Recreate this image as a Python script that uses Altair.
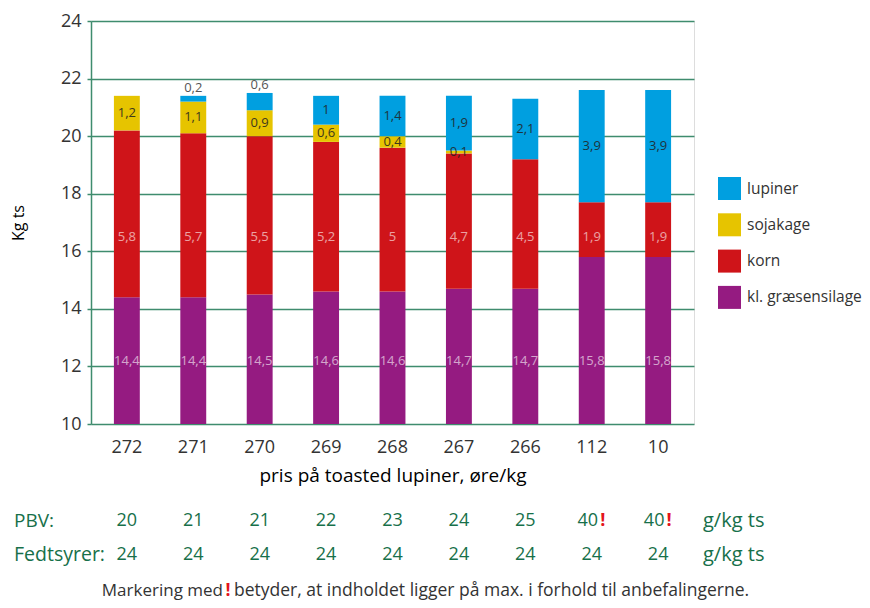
import altair as alt
import pandas as pd

categories = ["272", "271", "270", "269", "268", "267", "266", "112", "10"]
graes = [14.4, 14.4, 14.5, 14.6, 14.6, 14.7, 14.7, 15.8, 15.8]
korn = [5.8, 5.7, 5.5, 5.2, 5, 4.7, 4.5, 1.9, 1.9]
soja = [1.2, 1.1, 0.9, 0.6, 0.4, 0.1, 0, 0, 0]
lupin = [0, 0.2, 0.6, 1, 1.4, 1.9, 2.1, 3.9, 3.9]
pbv = [20, 21, 21, 22, 23, 24, 25, 40, 40]
pbv_max = [False, False, False, False, False, False, False, True, True]
fedt = [24, 24, 24, 24, 24, 24, 24, 24, 24]

components = ["kl. græsensilage", "korn", "sojakage", "lupiner"]
series = [graes, korn, soja, lupin]

rows = []
for ci, (comp, vals) in enumerate(zip(components, series)):
    for cat, v in zip(categories, vals):
        rows.append({"cat": cat, "component": comp, "value": v, "order": ci})
df = pd.DataFrame(rows)

table = pd.DataFrame({"cat": categories, "pbv": pbv, "flag": pbv_max, "fedt": fedt})

FONT = "Open Sans"
GREEN = "#17704a"
GRID = "#3f8c6e"

x_enc = alt.X(
    "cat:N", sort=categories,
    scale=alt.Scale(paddingInner=0.61, paddingOuter=0.345),
    axis=alt.Axis(title="pris på toasted lupiner, øre/kg", labelAngle=0, ticks=False,
                  domain=False, labelFontSize=18, labelPadding=14, labelColor="#333333",
                  titleFontSize=19, titleFontWeight="normal", titleColor="#000000",
                  titlePadding=10, labelFont=FONT, titleFont=FONT),
)
y_scale = alt.Scale(domain=[10, 24], nice=False, zero=False)
y_axis = alt.Axis(title="Kg ts", values=[10, 12, 14, 16, 18, 20, 22, 24], grid=True,
                  gridColor=GRID, gridWidth=1.5, domainColor=GRID, domainWidth=1.5,
                  tickColor=GRID, tickSize=4, tickWidth=1.5, labelFontSize=18,
                  labelColor="#333333", labelPadding=6, titleFontSize=16,
                  titleFontWeight="normal", titleColor="#000000", titlePadding=34,
                  labelFont=FONT, titleFont=FONT)

legend_order = ["lupiner", "sojakage", "korn", "kl. græsensilage"]
legend_colors = ["#009fe0", "#e6c400", "#cf1419", "#951b81"]

bars = alt.Chart(df).mark_bar(clip=True).encode(
    x=x_enc,
    y=alt.Y("value:Q", stack="zero", scale=y_scale, axis=y_axis),
    color=alt.Color("component:N",
                    scale=alt.Scale(domain=legend_order, range=legend_colors),
                    legend=alt.Legend(title=None, orient="none", legendX=627, legendY=156,
                                      symbolType="square", symbolSize=529,
                                      symbolStrokeWidth=0, symbolOpacity=1,
                                      labelFontSize=15.5, labelFont=FONT,
                                      labelColor="#333333", rowPadding=13.3,
                                      labelOffset=6, padding=0)),
    order=alt.Order("order:Q", sort="ascending"),
)

stacked = alt.Chart(df).transform_stack(
    stack="value", groupby=["cat"], sort=[alt.SortField("order", "ascending")],
    as_=["y0", "y1"],
).transform_calculate(
    mid="(datum.y0 + datum.y1) / 2",
    lab="replace(toString(datum.value), '.', ',')",
)

inside = stacked.transform_filter(
    "(datum.component == 'sojakage' || datum.component == 'lupiner') && datum.value > 0 && !(datum.component == 'lupiner' && datum.value < 0.8)"
).mark_text(fontSize=13, font=FONT, color="#222222", opacity=0.85, baseline="middle").encode(
    x=x_enc, y=alt.Y("mid:Q", scale=y_scale, axis=y_axis), text="lab:N")

above = stacked.transform_filter(
    "datum.component == 'lupiner' && datum.value > 0 && datum.value < 0.8"
).mark_text(fontSize=13, font=FONT, color="#555555", baseline="middle", dy=-8).encode(
    x=x_enc, y=alt.Y("y1:Q", scale=y_scale, axis=y_axis), text="lab:N")

purple_lab = stacked.transform_filter("datum.component == 'kl. græsensilage'").mark_text(
    fontSize=13, font=FONT, color="white", opacity=0.6, baseline="middle").encode(
    x=x_enc, y=alt.Y(datum=12.2, scale=y_scale, axis=y_axis), text="lab:N")

red_lab = stacked.transform_filter("datum.component == 'korn'").mark_text(
    fontSize=13, font=FONT, color="white", opacity=0.6, baseline="middle").encode(
    x=x_enc, y=alt.Y(datum=16.5, scale=y_scale, axis=y_axis), text="lab:N")

tbl = alt.Chart(table)
pbv_plain = tbl.transform_filter("!datum.flag").mark_text(
    fontSize=18, font=FONT, color=GREEN, baseline="middle").encode(
    x=x_enc, y=alt.value(500), text="pbv:N")
pbv_max_txt = tbl.transform_filter("datum.flag").mark_text(
    fontSize=18, font=FONT, color=GREEN, baseline="middle", dx=-4).encode(
    x=x_enc, y=alt.value(500), text="pbv:N")
pbv_flag = tbl.transform_filter("datum.flag").mark_text(
    fontSize=18, font=FONT, color="#e3141b", fontWeight="bold", baseline="middle",
    dx=11).encode(x=x_enc, y=alt.value(500), text=alt.value("!"))
fedt_txt = tbl.mark_text(fontSize=18, font=FONT, color=GREEN, baseline="middle").encode(
    x=x_enc, y=alt.value(534), text="fedt:N")


def static(txt, xpx, ypx, **kw):
    style = dict(font=FONT, baseline="middle")
    style.update(kw)
    return alt.Chart(pd.DataFrame({"t": [txt]})).mark_text(**style).encode(
        x=alt.value(xpx), y=alt.value(ypx), text="t:N")


statics = [
    static("PBV:", -77, 500, fontSize=19, color=GREEN, align="left"),
    static("Fedtsyrer:", -77, 534, fontSize=19.5, color=GREEN, align="left"),
    static("g/kg ts", 612, 500, fontSize=20, color=GREEN, align="left"),
    static("g/kg ts", 612, 534, fontSize=20, color=GREEN, align="left"),
    static("Markering med", 132, 570, fontSize=17, color="#333333", align="right"),
    static("!", 137, 570, fontSize=17.5, color="#e3141b", fontWeight="bold", align="center"),
    static("betyder, at indholdet ligger på max. i forhold til anbefalingerne.", 143, 570,
           fontSize=17.5, color="#333333", align="left"),
]

chart = alt.layer(
    bars, inside, above, purple_lab, red_lab, pbv_plain, pbv_max_txt, pbv_flag, fedt_txt,
    *statics
).properties(
    width=603, height=403,
    autosize=alt.AutoSizeParams(type="none"),
    padding={"left": 83, "top": 13, "right": 168, "bottom": 176},
).configure_view(stroke=None).configure(background="white")

chart.save("out.html", embed_options={"renderer": "svg", "actions": False})
